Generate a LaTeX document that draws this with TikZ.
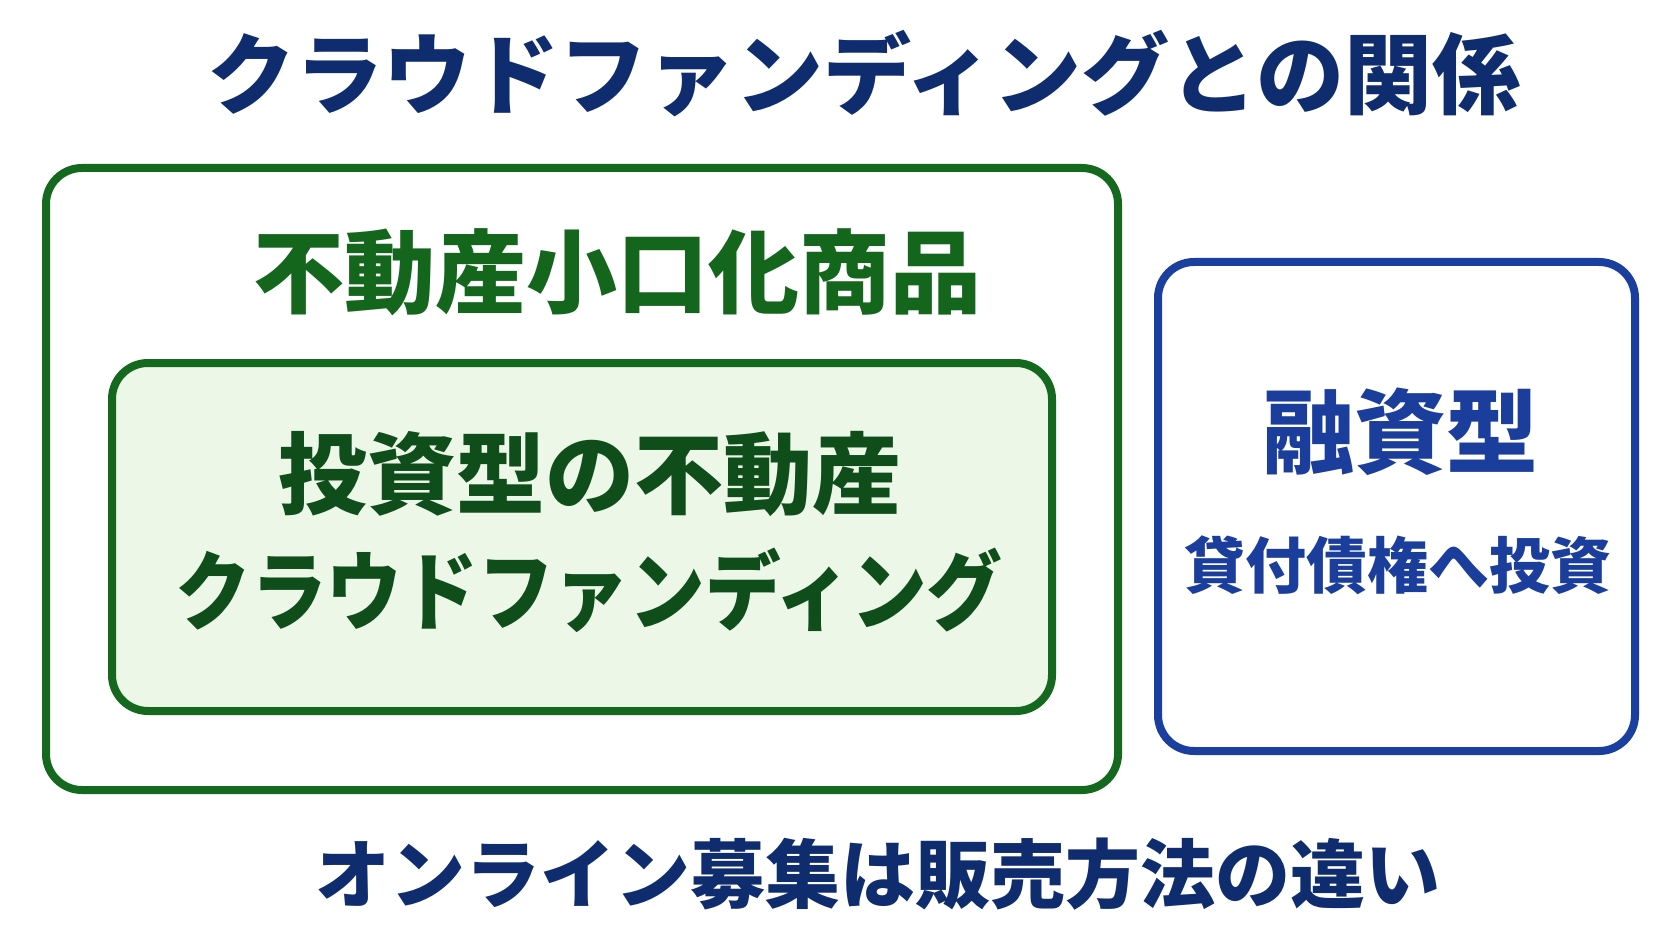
\documentclass[tikz,border=0pt]{standalone}
\usepackage{fontspec}
\setmainfont{Noto Sans CJK JP}
\definecolor{navy}{HTML}{0F2D6E}
\definecolor{gstroke}{HTML}{15691E}
\definecolor{gtext}{HTML}{13661C}
\definecolor{gdark}{HTML}{0F4D1B}
\definecolor{gfill}{HTML}{ECF7E8}
\definecolor{bstroke}{HTML}{1A3F9E}
\definecolor{btext}{HTML}{1B3E9C}
\tikzset{
  box/.style={line width=8pt, rounded corners=36pt},
  txt/.style={inner sep=0pt, anchor=center, font=\bfseries},
}
\begin{document}
\begin{tikzpicture}[x=1pt,y=-1pt]
\useasboundingbox[fill=white] (0,0) rectangle (1672,941);
% boxes
\draw[box, draw=gstroke] (46,168) rectangle (1118,790);
\draw[box, draw=gstroke, fill=gfill] (112,363) rectangle (1052,711);
\draw[box, draw=bstroke] (1158,262) rectangle (1635,751);
% texts
\node[txt, text=navy, font=\fontsize{88}{96}\selectfont\bfseries] (title) at (864,74) {クラウドファンディングとの関係};
\node[txt, text=gtext, font=\fontsize{91}{100}\selectfont\bfseries] (outer) at (617,272) {不動産小口化商品};
\node[txt, text=gdark, font=\fontsize{89}{98}\selectfont\bfseries] (in1) at (590,474) {投資型の不動産};
\node[txt, text=gdark, font=\fontsize{86}{96}\selectfont\bfseries] (in2) at (589,590) {\scalebox{0.88}[1]{クラウドファンディング}};
\node[txt, text=btext, font=\fontsize{92}{100}\selectfont\bfseries] (loan) at (1400,432) {融資型};
\node[txt, text=btext, font=\fontsize{61}{68}\selectfont\bfseries] (loan2) at (1398,565) {貸付債権へ投資};
\node[txt, text=navy, font=\fontsize{75}{84}\selectfont\bfseries] (bottom) at (878,874) {オンライン募集は販売方法の違い};
\end{tikzpicture}
\end{document}
